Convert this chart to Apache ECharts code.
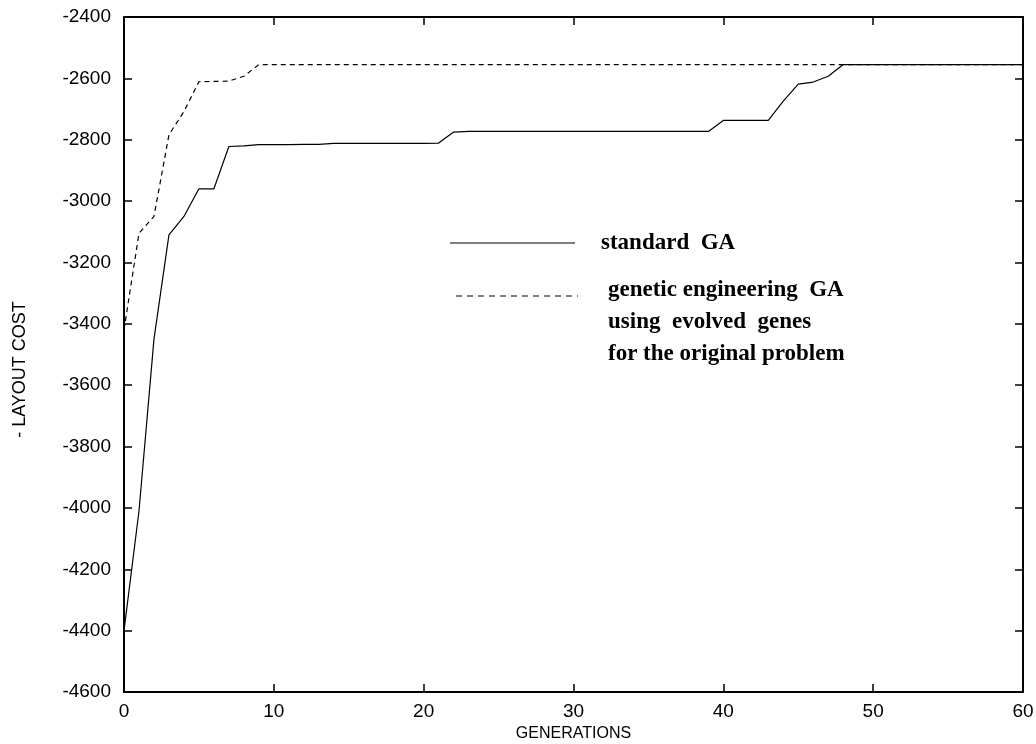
<!DOCTYPE html>
<html>
<head>
<meta charset="utf-8">
<script src="https://cdn.jsdelivr.net/npm/echarts@6/dist/echarts.min.js"></script>
<style>
html,body{margin:0;padding:0;background:#fff;}
#chart{width:1036px;height:744px;}
</style>
</head>
<body>
<div id="chart"></div>
<script>
// Generations (x values)
const generations = [0,1,2,3,4,5,6,7,8,9,10,11,12,13,14,15,16,17,18,19,20,21,22,23,24,25,26,27,28,29,30,31,32,33,34,35,36,37,38,39,40,41,42,43,44,45,46,47,48,49,50,51,52,53,54,55,56,57,58,59,60];
// standard GA (- layout cost)
const standardGA = [-4400,-4010,-3450,-3110,-3050,-2960,-2960,-2822,-2820,-2816,-2816,-2816,-2815,-2815,-2812,-2812,-2812,-2812,-2812,-2812,-2812,-2811,-2775,-2773,-2773,-2773,-2773,-2773,-2773,-2773,-2773,-2773,-2773,-2773,-2773,-2773,-2773,-2773,-2773,-2773,-2737,-2737,-2737,-2737,-2674,-2619,-2612,-2593,-2555,-2555,-2555,-2555,-2555,-2555,-2555,-2555,-2555,-2555,-2555,-2555,-2555];
// genetic engineering GA using evolved genes
const geneticEngGA = [-3420,-3105,-3050,-2784,-2708,-2611,-2610,-2609,-2593,-2555,-2555,-2555,-2555,-2555,-2555,-2555,-2555,-2555,-2555,-2555,-2555,-2555,-2555,-2555,-2555,-2555,-2555,-2555,-2555,-2555,-2555,-2555,-2555,-2555,-2555,-2555,-2555,-2555,-2555,-2555,-2555,-2555,-2555,-2555,-2555,-2555,-2555,-2555,-2555,-2555,-2555,-2555,-2555,-2555,-2555,-2555,-2555,-2555,-2555,-2555,-2555];
const xTicks = {min: 0, max: 60, interval: 10};
const yTicks = {min: -4600, max: -2400, interval: 200};
const legendLabels = ['standard  GA', 'genetic engineering  GA', 'using  evolved  genes', 'for the original problem'];

const chart = echarts.init(document.getElementById('chart'), null, {renderer: 'canvas'});
const sans = '"Liberation Sans", Arial, Helvetica, sans-serif';
const serif = '"Liberation Serif", "Times New Roman", serif';

const axisLine = {show: true, onZero: false, lineStyle: {color: '#000', width: 2}};
const axisTick = {show: true, inside: true, length: 8, lineStyle: {color: '#000', width: 1.5}};
const plain = (v) => String(v);

const pair = (ys) => generations.map((g, i) => [g, ys[i]]);

chart.setOption({
  animation: false,
  backgroundColor: '#fff',
  grid: {left: 124, right: 13, top: 17, bottom: 52, containLabel: false, outerBoundsMode: 'none'},
  xAxis: [{
    type: 'value', position: 'bottom', min: xTicks.min, max: xTicks.max, interval: xTicks.interval,
    axisLine, axisTick, splitLine: {show: false},
    axisLabel: {color: '#000', fontFamily: sans, fontSize: 19, margin: 10, formatter: plain},
    name: 'GENERATIONS', nameLocation: 'middle', nameGap: 25,
    nameTextStyle: {color: '#000', fontFamily: sans, fontSize: 16}
  }, {
    type: 'value', position: 'top', min: xTicks.min, max: xTicks.max, interval: xTicks.interval,
    axisLine, axisTick, splitLine: {show: false}, axisLabel: {show: false}
  }],
  yAxis: [{
    type: 'value', position: 'left', min: yTicks.min, max: yTicks.max, interval: yTicks.interval,
    axisLine, axisTick, splitLine: {show: false},
    axisLabel: {color: '#000', fontFamily: sans, fontSize: 19, margin: 13, formatter: plain},
    name: '- LAYOUT COST', nameLocation: 'middle', nameGap: 95, nameRotate: 90,
    nameTextStyle: {color: '#000', fontFamily: sans, fontSize: 18, padding: [0, 30, 0, 0]}
  }, {
    type: 'value', position: 'right', min: yTicks.min, max: yTicks.max, interval: yTicks.interval,
    axisLine, axisTick, splitLine: {show: false}, axisLabel: {show: false}
  }],
  series: [{
    name: legendLabels[1], type: 'line', data: pair(geneticEngGA), showSymbol: false, symbol: 'none',
    lineStyle: {color: '#000', width: 1.2, type: [5, 4]}, z: 2
  }, {
    name: legendLabels[0], type: 'line', data: pair(standardGA), showSymbol: false, symbol: 'none',
    lineStyle: {color: '#000', width: 1.2, type: 'solid'}, z: 3
  }],
  graphic: [
    {type: 'line', shape: {x1: 450, y1: 243, x2: 575, y2: 243}, style: {stroke: '#000', lineWidth: 1.2}},
    {type: 'text', left: 601, top: 232, style: {text: legendLabels[0], font: 'bold 23px ' + serif, fill: '#000'}},
    {type: 'line', shape: {x1: 456, y1: 296, x2: 578, y2: 296}, style: {stroke: '#000', lineWidth: 1, lineDash: [6, 5]}},
    {type: 'text', left: 608, top: 279, style: {text: legendLabels[1], font: 'bold 23px ' + serif, fill: '#000'}},
    {type: 'text', left: 608, top: 311, style: {text: legendLabels[2], font: 'bold 23px ' + serif, fill: '#000'}},
    {type: 'text', left: 608, top: 343, style: {text: legendLabels[3], font: 'bold 23px ' + serif, fill: '#000'}}
  ]
});
</script>
</body>
</html>
